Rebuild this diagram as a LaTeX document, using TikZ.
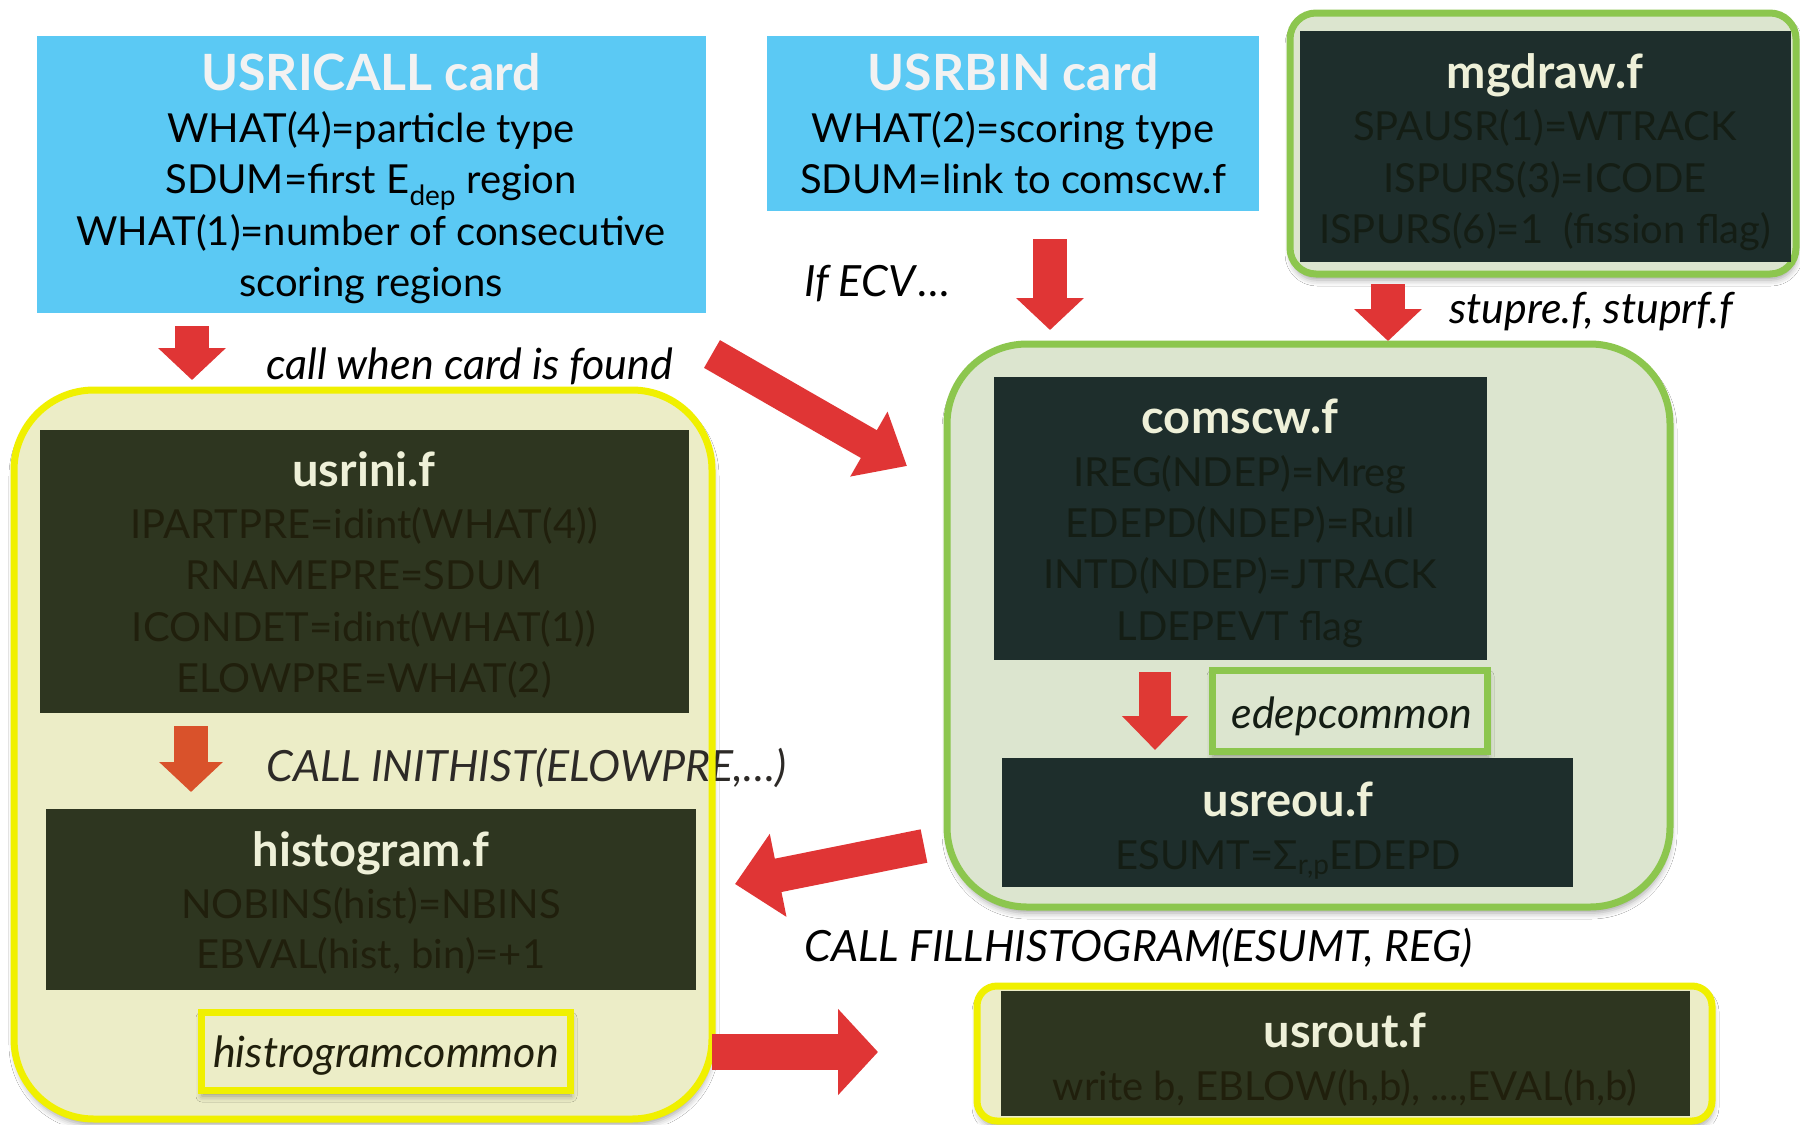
\documentclass[tikz,border=0pt]{standalone}
\usepackage{fontspec}
\setmainfont{Lato}
\usetikzlibrary{arrows.meta,fit,shadows.blur}
\definecolor{blueC}{HTML}{5BC9F4}
\definecolor{darkT}{HTML}{1E2E2C}
\definecolor{darkO}{HTML}{2E3620}
\definecolor{txtT}{HTML}{141D14}
\definecolor{txtO}{HTML}{201F0C}
\definecolor{creamT}{HTML}{EEF0D8}
\definecolor{yellowS}{HTML}{F0F000}
\definecolor{yellowF}{HTML}{ECEDC7}
\definecolor{greenS}{HTML}{8CC64E}
\definecolor{greenF}{HTML}{DCE5CF}
\definecolor{redA}{HTML}{E03535}
\definecolor{orangeA}{HTML}{D9522B}
\definecolor{whiteT}{HTML}{F2F2F2}
\newcommand\bluetitle{\fontsize{50bp}{54bp}\selectfont\bfseries}
\newcommand\bodyfnt{\fontsize{40bp}{46bp}\selectfont}
\newcommand\darktitle{\fontsize{47bp}{50bp}\selectfont\bfseries}
\newcommand\labfnt{\fontsize{43bp}{48bp}\selectfont\itshape}
\begin{document}
\begin{tikzpicture}[x=1bp,y=-1bp,
  box/.style={inner sep=0pt, outer sep=0pt, draw=none},
  bluebox/.style={box, fill=blueC},
  tealbox/.style={box, fill=darkT},
  olivebox/.style={box, fill=darkO},
  shad/.style={blur shadow={shadow xshift=1bp, shadow yshift=-6bp, shadow blur radius=6bp, shadow opacity=35}},
  ycont/.style={box, fill=yellowF, draw=yellowS, line width=7bp},
  gcont/.style={box, fill=greenF, draw=greenS, line width=7bp},
  tl/.style={anchor=base, inner sep=0pt},
  tlw/.style={anchor=base west, inner sep=0pt},
  fatred/.style={draw=redA, line width=34bp, -{Triangle[length=32bp,width=66bp]}},
  fatorange/.style={draw=orangeA, line width=34bp, -{Triangle[length=30bp,width=62bp]}}
]
\useasboundingbox (0,0) rectangle (1800,1124);
\fill[white] (0,0) rectangle (1800,1124);

% ---------- blue cards ----------
\node[bluebox, fit={(37,36) (706,313)}] (usricall) {};
\node[tl, text=whiteT] (t1) at (371,90) {\bluetitle USRICALL card};
\node[tl] (t2) at (371,142) {\bodyfnt WHAT(4)=particle type};
\node[tl] (t3) at (371,193) {\bodyfnt SDUM=first E\textsubscript{dep} region};
\node[tl] (t4) at (371,245) {\bodyfnt WHAT(1)=number of consecutive};
\node[tl] (t5) at (371,296) {\bodyfnt scoring regions};

\node[bluebox, fit={(767,36) (1259,211)}] (usrbin) {};
\node[tl, text=whiteT] (b1) at (1013,90) {\bluetitle USRBIN card};
\node[tl] (b2) at (1013,142) {\bodyfnt WHAT(2)=scoring type};
\node[tl] (b3) at (1013,193) {\bodyfnt SDUM=link to comscw.f};

% ---------- mgdraw ----------
\node[gcont, rounded corners=26bp, shad, fit={(1290,13) (1796,274)}] (mgc) {};
\node[tealbox, fit={(1300,31) (1791,262)}] (mgdraw) {};
\node[tl, text=creamT] (m1) at (1545,88) {\darktitle mgdraw.f};
\node[tl, text=txtT] (m2) at (1545,140) {\bodyfnt SPAUSR(1)=WTRACK};
\node[tl, text=txtT] (m3) at (1545,192) {\bodyfnt ISPURS(3)=ICODE};
\node[tl, text=txtT] (m4) at (1545,243) {\bodyfnt ISPURS(6)=1 \ (fission flag)};

% ---------- labels top ----------
\node[tlw] (ifecv) at (804,296) {\labfnt If ECV\kern3bp…};
\node[tlw] (stup) at (1449,323) {\labfnt stupre.f, stuprf.f};
\node[tlw] (callwhen) at (266,379) {\labfnt call when card is found};

% ---------- left yellow container ----------
\node[box, fill=yellowF, rounded corners=80bp, shad, fit={(14,390) (712,1119)}] (leftc) {};
\node[olivebox, fit={(40,430) (689,713)}] (usrini) {};
\node[tl, text=creamT] (u1) at (364,486) {\darktitle usrini.f};
\node[tl, text=txtO] (u2) at (364,538) {\bodyfnt IPARTPRE=idint(WHAT(4))};
\node[tl, text=txtO] (u3) at (364,589) {\bodyfnt RNAMEPRE=SDUM};
\node[tl, text=txtO] (u4) at (364,641) {\bodyfnt ICONDET=idint(WHAT(1))};
\node[tl, text=txtO] (u5) at (364,692) {\bodyfnt ELOWPRE=WHAT(2)};

\node[tlw, text=black!90!olive] (inithist) at (266,781) {\labfnt CALL INITHIST(ELOWPRE,…)};
\draw[draw=yellowS, line width=7bp, rounded corners=80bp] (leftc.north west) rectangle (leftc.south east);

\node[olivebox, fit={(46,809) (696,990)}] (histo) {};
\node[tl, text=creamT] (h1) at (371,866) {\darktitle histogram.f};
\node[tl, text=txtO] (h2) at (371,918) {\bodyfnt NOBINS(hist)=NBINS};
\node[tl, text=txtO] (h3) at (371,968) {\bodyfnt EBVAL(hist, bin)=+1};

\node[ycont, shad, fit={(201,1012) (570,1090)}] (hcommon) {};
\node[tl, text=txtO] (hc) at (386,1067) {\labfnt histrogramcommon};

% ---------- middle green container ----------
\node[gcont, rounded corners=80bp, shad, fit={(947,344) (1670,907)}] (midc) {};
\node[tealbox, fit={(994,377) (1487,660)}] (comscw) {};
\node[tl, text=creamT] (c1) at (1240,433) {\darktitle comscw.f};
\node[tl, text=txtT] (c2) at (1240,486) {\bodyfnt IREG(NDEP)=Mreg};
\node[tl, text=txtT] (c3) at (1240,537) {\bodyfnt EDEPD(NDEP)=Rull};
\node[tl, text=txtT] (c4) at (1240,588) {\bodyfnt INTD(NDEP)=JTRACK};
\node[tl, text=txtT] (c5) at (1240,640) {\bodyfnt LDEPEVT flag};

\node[box, fill=greenF, draw=greenS, line width=7bp, shad, fit={(1212,670) (1487,751)}] (edep) {};
\node[tl, text=txtT] (ec) at (1352,728) {\labfnt edepcommon};

\node[tealbox, fit={(1002,758) (1573,887)}] (usreou) {};
\node[tl, text=creamT] (r1) at (1288,816) {\darktitle usreou.f};
\node[tl, text=txtT] (r2) at (1288,869) {\bodyfnt ESUMT=Σ\textsubscript{r,p}EDEPD};

\node[tlw] (fillh) at (804,961) {\labfnt CALL FILLHISTOGRAM(ESUMT, REG)};

% ---------- usrout ----------
\node[ycont, rounded corners=20bp, shad, fit={(977,986) (1712,1121)}] (usroutc) {};
\node[olivebox, fit={(1001,991) (1690,1116)}] (usrout) {};
\node[tl, text=creamT] (o1) at (1345,1047) {\darktitle usrout.f};
\node[tl, text=txtO] (o2) at (1345,1100) {\bodyfnt write b, EBLOW(h,b), ...,EVAL(h,b)};

% ---------- arrows ----------
\coordinate (a1s) at (192,326);  \coordinate (a1e) at (192,380);
\draw[fatred] (a1s) -- (a1e);
\coordinate (a2s) at (1050,239); \coordinate (a2e) at (1050,330);
\draw[fatred] (a2s) -- (a2e);
\coordinate (a3s) at (1388,284); \coordinate (a3e) at (1388,341);
\draw[fatred] (a3s) -- (a3e);
\coordinate (a4s) at (712,354);  \coordinate (a4e) at (907,466);
\draw[fatred, line width=32bp, -{Triangle[length=44bp,width=72bp]}] (a4s) -- (a4e);
\coordinate (a5s) at (191,726);  \coordinate (a5e) at (191,792);
\draw[fatorange] (a5s) -- (a5e);
\coordinate (a6s) at (1155,672); \coordinate (a6e) at (1155,750);
\draw[draw=redA!85!orangeA, line width=32bp, -{Triangle[length=34bp,width=64bp]}] (a6s) -- (a6e);
\coordinate (a7s) at (924,846);  \coordinate (a7e) at (735,884);
\draw[fatred, -{Triangle[length=44bp,width=82bp]}] (a7s) -- (a7e);
\coordinate (a8s) at (712,1052); \coordinate (a8e) at (878,1052);
\draw[fatred, line width=36bp, -{Triangle[length=40bp,width=84bp]}] (a8s) -- (a8e);
\end{tikzpicture}
\end{document}
